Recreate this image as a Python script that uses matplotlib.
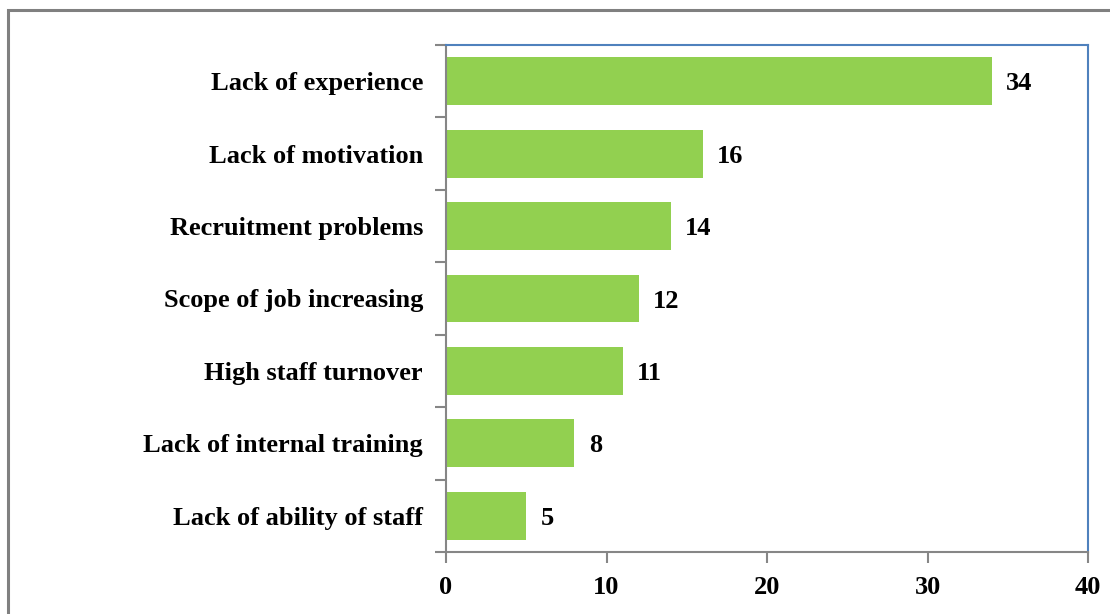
import numpy as np
import matplotlib.pyplot as plt
from matplotlib.patches import Rectangle

categories = ["Lack of experience", "Lack of motivation", "Recruitment problems",
              "Scope of job increasing", "High staff turnover",
              "Lack of internal training", "Lack of ability of staff"]
values = [34, 16, 14, 12, 11, 8, 5]
xticks = [0, 10, 20, 30, 40]

plt.rcParams['font.family'] = ['Liberation Serif', 'DejaVu Serif']
plt.rcParams['font.weight'] = 'bold'
fs = 19

fig = plt.figure(figsize=(11.1, 6.14), dpi=100)
fig.patches.append(Rectangle((8 / 1110, -0.1), 1.2, 1 - 10 / 614 + 0.1,
                             transform=fig.transFigure, fill=False,
                             edgecolor='#808080', linewidth=2.2))
ax = fig.add_axes([446 / 1110, 1 - 552 / 614, (1088 - 446) / 1110, (552 - 45) / 614])

n = len(categories)
y = np.arange(n)[::-1]
ax.barh(y, values, height=0.66, color='#92D050')
for yi, v in zip(y, values):
    ax.text(v + 0.9, yi, str(v), va='center_baseline', ha='left', fontsize=fs, fontweight='bold')

ax.set_xlim(0, 40)
ax.set_ylim(-0.5, n - 0.5)
ax.set_xticks(xticks)
ax.set_xticklabels([str(t) for t in xticks], fontsize=fs, fontweight='bold')
ax.tick_params(axis='x', length=8, width=1.5, color='#868686', pad=9)

ax.set_yticks(np.arange(n + 1) - 0.5)
ax.set_yticklabels([])
ax.set_yticks(y, minor=True)
ax.set_yticklabels(categories, minor=True, fontsize=fs, fontweight='bold')
for lbl in ax.get_yticklabels(minor=True):
    lbl.set_verticalalignment('center_baseline')
ax.tick_params(axis='y', which='major', length=8, width=1.5, color='#868686')
ax.tick_params(axis='y', which='minor', length=0, pad=16.5)

for s in ['left', 'bottom']:
    ax.spines[s].set_color('#868686')
    ax.spines[s].set_linewidth(1.5)
for s in ['top', 'right']:
    ax.spines[s].set_color('#4F81BD')
    ax.spines[s].set_linewidth(1.5)

fig.savefig('out.png', dpi=100)
